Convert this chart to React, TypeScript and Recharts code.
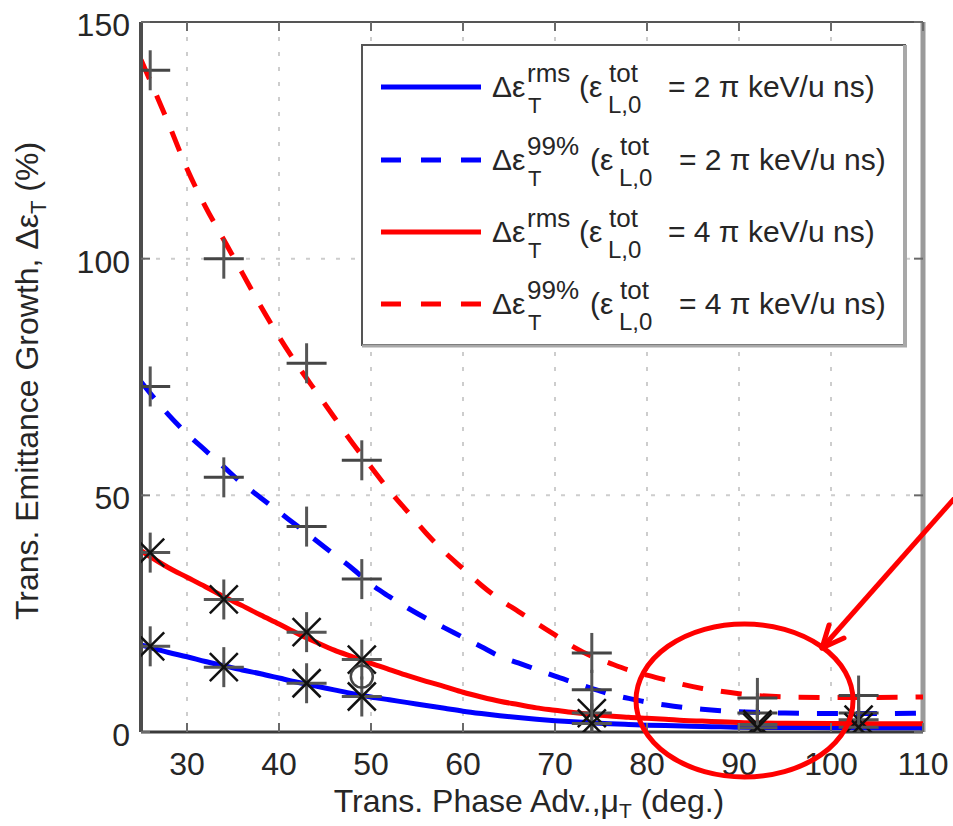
import React from "react";
import {
  ComposedChart,
  Line,
  Scatter,
  XAxis,
  YAxis,
  CartesianGrid,
  ReferenceLine,
} from "recharts";

// ---------------- data ----------------
const xTicks = [30, 40, 50, 60, 70, 80, 90, 100, 110];
const yTicks = [0, 50, 100, 150];

// fitted curves
const curveMu = [
  25, 28, 30, 32, 34, 36, 38, 40, 42, 44, 46, 48, 50, 52, 54, 56, 58, 60, 62,
  64, 66, 68, 70, 72, 74, 76, 78, 80, 82, 84, 86, 88, 90, 95, 100, 105, 110,
];
const rms2Curve = [
  18.4, 16.8, 15.9, 14.9, 14.0, 13.1, 12.3, 11.4, 10.5, 9.7, 8.9, 8.1, 7.4,
  6.8, 6.2, 5.6, 5.0, 4.4, 3.9, 3.45, 3.05, 2.7, 2.4, 2.15, 1.95, 1.75, 1.6,
  1.45, 1.35, 1.25, 1.15, 1.1, 1.0, 0.95, 0.9, 0.85, 0.85,
];
const p99_2Curve = [
  74, 67, 63, 59.5, 56, 52.5, 49.5, 46.5, 43.5, 40.5, 37.5, 34.5, 31.2, 28.6,
  26.2, 24, 22, 20, 18, 16, 14.6, 13.2, 11.8, 10.5, 9.2, 8, 7.1, 6.3, 5.7,
  5.2, 4.8, 4.5, 4.3, 4.0, 3.9, 3.9, 4.0,
];
const rms4Curve = [
  38.3, 34.7, 32.7, 30.7, 28.6, 26.7, 24.7, 22.8, 20.8, 19.0, 17.3, 15.9,
  14.5, 13.2, 11.9, 10.7, 9.6, 8.4, 7.4, 6.5, 5.8, 5.1, 4.6, 4.1, 3.7, 3.4,
  3.1, 2.9, 2.7, 2.45, 2.3, 2.15, 2.0, 1.85, 1.8, 1.75, 1.75,
];
const p99_4Curve = [
  142, 128.5, 119, 111, 104, 97, 90, 83.5, 77.5, 72, 66.5, 61, 56, 51, 46.5,
  42, 38, 34.5, 31, 28, 25.5, 23, 20.5, 18, 16, 14.5, 13.1, 12, 11, 10, 9.2,
  8.6, 8.1, 7.4, 7.3, 7.3, 7.4,
];

// simulation markers
const simMu = [26, 34, 43, 49, 74, 92, 103];
const rms2Sim = [18.1, 13.7, 10.3, 7.5, 1.8, 0.9, 1.0];
const p99_2Sim = [73, 53.8, 43.4, 32.3, 8.9, 4.0, 4.0];
const rms4Sim = [37.9, 28, 21.1, 15.3, 4.0, 1.6, 2.6];
const p99_4Sim = [139.8, 100, 77.9, 57.4, 16.7, 7.2, 7.7];
const extraMu = [49];
const extraSim = [11.7];

// legend
const legendSup = ["rms", "99%", "rms", "99%"];
const legendEmit = ["2", "2", "4", "4"];
const seriesColors = ["#0000ff", "#0000ff", "#ff0000", "#ff0000"];
const seriesDashed = [false, true, false, true];

// ---------------- layout ----------------
const W = 953;
const H = 826;
const PL = 141;
const PR = 923;
const PT = 22;
const PB = 732;
const FONT = "'Liberation Sans', Arial, Helvetica, sans-serif";
const TEXT = "#262626";
const DASH = "21 18";

const toPts = (xs: number[], ys: number[]) =>
  xs.map((x, i) => ({ x, y: ys[i] }));

const curves = [rms2Curve, p99_2Curve, rms4Curve, p99_4Curve].map((c) =>
  toPts(curveMu, c)
);

// ---------------- shapes ----------------
const PlusShape = (p: any) => {
  const { cx, cy } = p;
  if (cx == null || cy == null) return <g />;
  return (
    <g>
      <line x1={cx - 20} y1={cy} x2={cx + 20} y2={cy} stroke="#454545" strokeWidth={3} />
      <line x1={cx} y1={cy - 20} x2={cx} y2={cy + 20} stroke="#555" strokeWidth={3} />
    </g>
  );
};

const StarShape = (p: any) => {
  const { cx, cy } = p;
  if (cx == null || cy == null) return <g />;
  const d = 14;
  return (
    <g>
      <line x1={cx - 20} y1={cy} x2={cx + 20} y2={cy} stroke="#555" strokeWidth={3} />
      <line x1={cx} y1={cy - 20} x2={cx} y2={cy + 20} stroke="#555" strokeWidth={3} />
      <line x1={cx - d} y1={cy - d} x2={cx + d} y2={cy + d} stroke="#111" strokeWidth={2.5} />
      <line x1={cx - d} y1={cy + d} x2={cx + d} y2={cy - d} stroke="#111" strokeWidth={2.5} />
    </g>
  );
};

const CircleShape = (p: any) => {
  const { cx, cy } = p;
  if (cx == null || cy == null) return <g />;
  return <circle cx={cx} cy={cy} r={11} fill="none" stroke="#444" strokeWidth={2.5} />;
};

// ---------------- ticks ----------------
const XTick = (props: any) => {
  const { x, payload } = props;
  return (
    <g>
      <line x1={x} y1={PB} x2={x} y2={PB - 9} stroke="#6a6a6a" strokeWidth={2} />
      <line x1={x} y1={PT} x2={x} y2={PT + 9} stroke="#6a6a6a" strokeWidth={2} />
      <text
        x={x}
        y={PB + 43}
        textAnchor="middle"
        fontSize={32}
        fontFamily={FONT}
        fill={TEXT}
      >
        {payload.value}
      </text>
    </g>
  );
};

const YTick = (props: any) => {
  const { y, payload } = props;
  return (
    <g>
      <line x1={PL} y1={y} x2={PL + 9} y2={y} stroke="#6a6a6a" strokeWidth={2} />
      <line x1={PR} y1={y} x2={PR - 9} y2={y} stroke="#6a6a6a" strokeWidth={2} />
      <text
        x={130}
        y={y + 14}
        textAnchor="end"
        fontSize={32}
        fontFamily={FONT}
        fill={TEXT}
      >
        {payload.value}
      </text>
    </g>
  );
};

// ---------------- legend ----------------
const Legend = () => {
  const rowY = [87, 160, 232, 304];
  return (
    <g fontFamily={FONT} fill={TEXT}>
      <rect x={362} y={45} width={543} height={300} fill="#fff" stroke="#555" strokeWidth={2} />
      <line x1={905} y1={45} x2={905} y2={347} stroke="#a8a8a8" strokeWidth={4} />
      <line x1={362} y1={346} x2={907} y2={346} stroke="#a8a8a8" strokeWidth={3} />
      {legendSup.map((sup, i) => {
        const y = rowY[i];
        const off = sup === "99%" ? 11 : 0;
        return (
          <g key={i}>
            <line
              x1={381}
              y1={y}
              x2={481}
              y2={y}
              stroke={seriesColors[i]}
              strokeWidth={5}
              strokeDasharray={seriesDashed[i] ? "20 20" : undefined}
            />
            <text x={492} y={y + 10} fontSize={30}>Δε</text>
            <text x={527} y={y - 5} fontSize={26}>{sup}</text>
            <text x={528} y={y + 26} fontSize={22}>T</text>
            <text x={579 + off} y={y + 10} fontSize={30}>(ε</text>
            <text x={609 + off} y={y - 5} fontSize={26}>tot</text>
            <text x={608 + off} y={y + 26} fontSize={24}>L,0</text>
            <text x={668 + off} y={y + 10} fontSize={30}>
              {`= ${legendEmit[i]} π keV/u ns)`}
            </text>
          </g>
        );
      })}
    </g>
  );
};

// ---------------- overlay ----------------
const Overlay = () => {
  const tipX = 822;
  const tipY = 648;
  return (
    <svg
      width={W}
      height={H}
      style={{ position: "absolute", left: 0, top: 0, pointerEvents: "none" }}
    >
      <Legend />
      {/* y axis label */}
      <text
        x={38}
        y={381}
        transform="rotate(-90 38 381)"
        textAnchor="middle"
        fontSize={32}
        fontFamily={FONT}
        fill={TEXT}
      >
        Trans. Emittance Growth, Δε
        <tspan dy={8} fontSize={22}>T</tspan>
        <tspan dy={-8}>{" (%)"}</tspan>
      </text>
      {/* x axis label */}
      <text
        x={529}
        y={812}
        textAnchor="middle"
        fontSize={32}
        fontFamily={FONT}
        fill={TEXT}
      >
        Trans. Phase Adv.,μ
        <tspan dy={6} fontSize={21}>T</tspan>
        <tspan dy={-6}>{" (deg.)"}</tspan>
      </text>
      {/* annotation */}
      <ellipse cx={744.5} cy={700.5} rx={108.5} ry={76.5} fill="none" stroke="#ff0000" strokeWidth={5} />
      <line x1={960} y1={492} x2={tipX} y2={tipY} stroke="#ff0000" strokeWidth={5} />
      <line x1={tipX} y1={tipY} x2={829} y2={625} stroke="#ff0000" strokeWidth={5} strokeLinecap="round" />
      <line x1={tipX} y1={tipY} x2={844} y2={638} stroke="#ff0000" strokeWidth={5} strokeLinecap="round" />
    </svg>
  );
};

export default function App() {
  return (
    <div style={{ position: "relative", width: W, height: H, background: "#fff" }}>
      <style>{"html,body{margin:0;padding:0;overflow:hidden;background:#fff}"}</style>
      <ComposedChart
        width={W}
        height={H}
        margin={{ top: PT, right: W - PR, bottom: 0, left: 0 }}
      >
        <CartesianGrid
          stroke="#cdcdcd"
          strokeWidth={2}
          strokeDasharray="4 11"
        />
        <XAxis
          type="number"
          dataKey="x"
          domain={[25, 110]}
          ticks={xTicks}
          interval={0}
          allowDataOverflow
          height={H - PB}
          tickLine={false}
          tickSize={0}
          tickMargin={0}
          tick={XTick}
          axisLine={{ stroke: "#3a3a3a", strokeWidth: 3 }}
        />
        <YAxis
          type="number"
          dataKey="y"
          domain={[0, 150]}
          ticks={yTicks}
          interval={0}
          allowDataOverflow
          width={PL}
          tickLine={false}
          tickSize={0}
          tickMargin={0}
          tick={YTick}
          axisLine={{ stroke: "#4d4d4d", strokeWidth: 4 }}
        />
        <ReferenceLine y={150} stroke="#555" strokeWidth={2} />
        <ReferenceLine x={110} stroke="#9a9a9a" strokeWidth={5} />
        {curves.map((data, i) => (
          <Line
            key={"c" + i}
            data={data}
            dataKey="y"
            type="monotone"
            stroke={seriesColors[i]}
            strokeWidth={5}
            strokeDasharray={seriesDashed[i] ? DASH : undefined}
            dot={false}
            activeDot={false}
            isAnimationActive={false}
          />
        ))}
        <Scatter data={toPts(simMu, p99_4Sim)} dataKey="y" shape={PlusShape} isAnimationActive={false} />
        <Scatter data={toPts(simMu, p99_2Sim)} dataKey="y" shape={PlusShape} isAnimationActive={false} />
        <Scatter data={toPts(simMu, rms4Sim)} dataKey="y" shape={StarShape} isAnimationActive={false} />
        <Scatter data={toPts(simMu, rms2Sim)} dataKey="y" shape={StarShape} isAnimationActive={false} />
        <Scatter data={toPts(extraMu, extraSim)} dataKey="y" shape={CircleShape} isAnimationActive={false} />
      </ComposedChart>
      <Overlay />
    </div>
  );
}
